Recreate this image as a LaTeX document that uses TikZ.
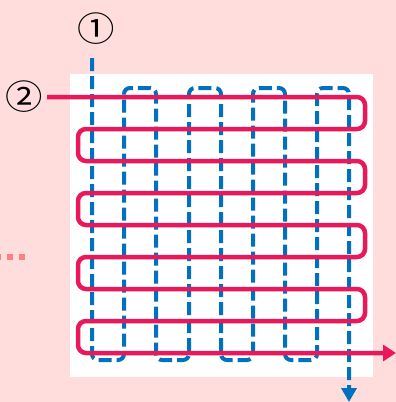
\documentclass[tikz,border=0pt]{standalone}
\usepackage{fontspec}
\usepackage{tikz}
\usepackage{xcolor}
\newfontfamily\markfont{Noto Sans CJK JP}
\usetikzlibrary{arrows.meta, positioning, calc}

\definecolor{bgpink}{HTML}{FFDDDD}
\definecolor{rowred}{HTML}{E8185A}
\definecolor{colblue}{HTML}{0070C0}
\definecolor{dotpink}{HTML}{FF8080}

\tikzset{
  rowpath/.style={draw=rowred, line width=4.5pt, rounded corners=8pt, -{Triangle[length=13pt, width=16pt]}},
  colpath/.style={draw=colblue, line width=4pt, rounded corners=6pt, dash pattern=on 13pt off 5pt, -{Triangle[length=14pt, width=15pt]}},
  marklabel/.style={font=\markfont\fontsize{34}{34}\selectfont, inner sep=0pt, xscale=1.1}
}

\begin{document}
\begin{tikzpicture}[x=1pt, y=-1pt]
\useasboundingbox (0,0) rectangle (396,402);
\fill[bgpink] (0,0) rectangle (396,402);
\fill[white] (70,74) rectangle (373,377);

% dots on the left
\draw[dotpink, line width=6pt, dash pattern=on 6pt off 6pt] (-5.5,257) -- (24.5,257);

% labels
\node[marklabel] (one) at (96,29) {①};
\node[marklabel] (two) at (24,97) {②};

% column order
\coordinate (colstart) at (92,58);
\coordinate (colend) at (349,402);
\draw[colpath] (colstart) -- (92,360) -- (124,360) -- (124,88) -- (156,88) -- (156,360)
  -- (189,360) -- (189,88) -- (221,88) -- (221,360) -- (253,360) -- (253,88)
  -- (285,88) -- (285,360) -- (317,360) -- (317,88) -- (349,88) -- (colend);

% row order
\coordinate (rowstart) at (47,97);
\coordinate (rowend) at (396,353);
\draw[rowpath] (rowstart) -- (365,97) -- (365,129) -- (78,129) -- (78,161) -- (365,161)
  -- (365,193) -- (78,193) -- (78,225) -- (365,225) -- (365,257) -- (78,257)
  -- (78,289) -- (365,289) -- (365,321) -- (78,321) -- (78,353) -- (rowend);
\end{tikzpicture}
\end{document}
